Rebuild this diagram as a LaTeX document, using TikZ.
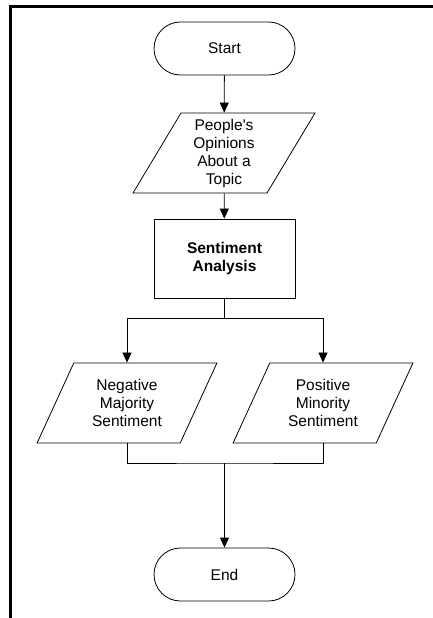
\documentclass[tikz,border=0pt]{standalone}
\usepackage{fontspec}
\setmainfont{Liberation Sans}
\usetikzlibrary{shapes.geometric, arrows.meta}

\begin{document}
\begin{tikzpicture}[x = 1pt, y = -1pt,
    every node/.style = {font = \fontsize{15.5pt}{18pt}\selectfont, align = center, line width = 0.8pt},
    term/.style = {draw, rectangle, rounded corners = 26.5pt, minimum width = 141pt, minimum height = 53pt},
    iobox/.style = {draw, trapezium, trapezium left angle = 63.4, trapezium right angle = 116.6, trapezium stretches = true, minimum width = 182pt, minimum height = 80pt, inner sep = 1pt},
    procbox/.style = {draw, rectangle, minimum width = 141pt, minimum height = 79pt, font = \fontsize{15.5pt}{18pt}\selectfont\bfseries},
    arr/.style = {-{Triangle[width = 9pt, length = 10pt]}, line width = 0.8pt},
    link/.style = {line width = 0.8pt}]
          \useasboundingbox (0, 0) rectangle (433, 618);
          \draw [line width = 3pt] (433, 6.5) -- (10.5, 6.5) -- (10.5, 618);
          \node [term] (start) at (224.5, 48.5) {Start};
          \node [iobox] (opinions) at (224, 153) {People\textquotesingle s\\Opinions\\About a\\Topic};
          \node [procbox] (analysis) at (224.5, 258.5) {Sentiment\\Analysis};
          \node [iobox, minimum width = 180pt] (negative) at (127, 403) {Negative\\Majority\\Sentiment};
          \node [iobox, minimum width = 180pt] (positive) at (323, 403) {Positive\\Minority\\Sentiment};
          \node [term] (stop) at (224.5, 574.5) {End};
          \coordinate (split) at (224.5, 318);
          \coordinate (join) at (224.5, 463);
          \draw [arr] (start) -- (opinions);
          \draw [arr] (opinions) -- (analysis);
          \draw [link] (analysis) -- (split);
          \draw [arr] (split) -| (negative);
          \draw [arr] (split) -| (positive);
          \draw [link] (negative) |- (join) -| (positive);
          \draw [arr] (join) -- (stop);
        \end{tikzpicture}
\end{document}
